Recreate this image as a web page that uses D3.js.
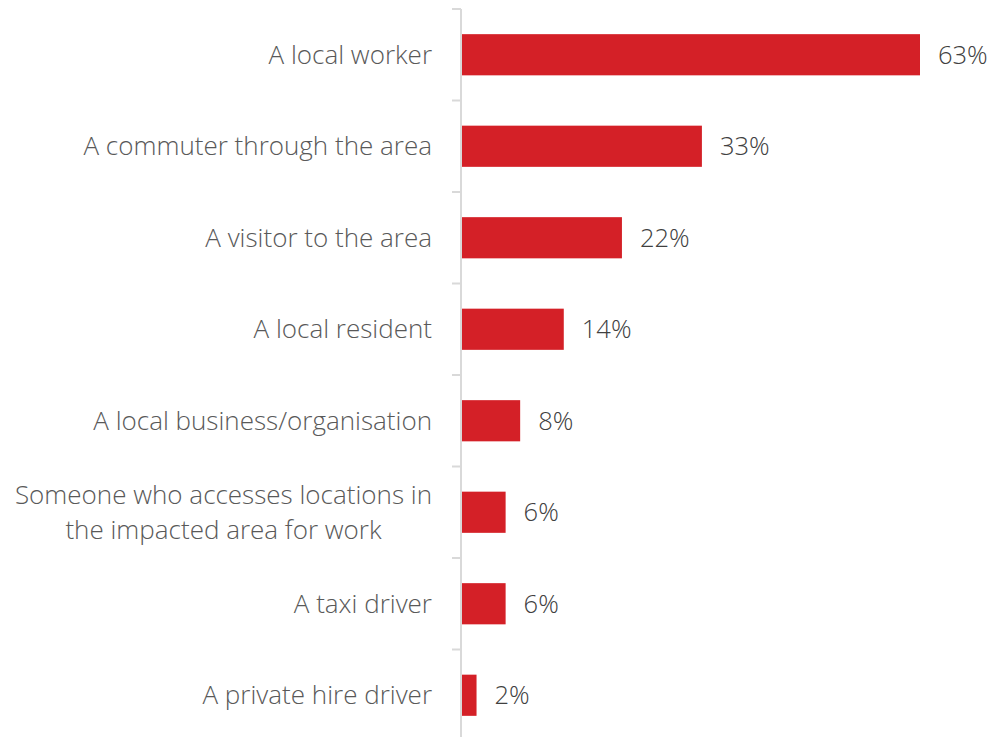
<!DOCTYPE html>
<html><head><meta charset="utf-8">
<script src="https://cdn.jsdelivr.net/npm/d3@7"></script>
<style>body{margin:0;background:#fff}svg{display:block}</style>
</head><body>
<svg id="c" width="993" height="737"></svg>
<script>
const categories = [
  ["A local worker"],
  ["A commuter through the area"],
  ["A visitor to the area"],
  ["A local resident"],
  ["A local business/organisation"],
  ["Someone who accesses locations in", "the impacted area for work"],
  ["A taxi driver"],
  ["A private hire driver"]
];
const values = [63, 33, 22, 14, 8, 6, 6, 2];
const valueLabels = ["63%", "33%", "22%", "14%", "8%", "6%", "6%", "2%"];

const svg = d3.select("#c");
const x0 = 461, y0 = 9, y1 = 741;
const ids = categories.map((d, i) => i);
const y = d3.scaleBand().domain(ids).range([y0, y1]).paddingInner(0.55).paddingOuter(0.275);
const x = d3.scaleLinear().domain([0, 63]).range([x0 + 1, 920]);
const font = "'Open Sans', sans-serif";

// axis
const yAxis = d3.axisLeft(y).tickSize(0).tickFormat("");
const ag = svg.append("g").attr("transform", `translate(${x0},0)`).call(yAxis);
ag.select(".domain").remove();
ag.append("line").attr("x1", 0).attr("x2", 0).attr("y1", y0).attr("y2", 737)
  .attr("stroke", "#d9d9d9").attr("stroke-width", 2);
const step = y.step();
d3.range(ids.length + 1).forEach(i => {
  const yy = y0 + i * step;
  ag.append("line").attr("x1", -9).attr("x2", 0).attr("y1", yy).attr("y2", yy)
    .attr("stroke", "#d9d9d9").attr("stroke-width", 2);
});

// bars
svg.append("g").selectAll("rect").data(values).join("rect")
  .attr("x", x(0)).attr("y", (d, i) => y(i))
  .attr("width", d => x(d) - x(0)).attr("height", y.bandwidth())
  .attr("fill", "#d42027");

// value labels
svg.append("g").selectAll("text").data(values).join("text")
  .attr("x", d => x(d) + 18).attr("y", (d, i) => y(i) + y.bandwidth() / 2)
  .attr("dy", "0.35em").attr("font-family", font).attr("font-weight", 300)
  .attr("font-size", 25.5).attr("fill", "#404040")
  .text((d, i) => valueLabels[i]);

// category labels
const labelRight = x0 - 29;
const cg = svg.append("g").selectAll("text").data(categories).join("text")
  .attr("text-anchor", "end").attr("font-family", font).attr("font-weight", 300)
  .attr("font-size", 26).attr("fill", "#595959")
  .attr("transform", (d, i) => `translate(${labelRight},${y(i) + y.bandwidth() / 2})`);
cg.selectAll("tspan").data(d => d.map((t, j) => ({t, j, n: d.length}))).join("tspan")
  .attr("x", 0)
  .attr("y", d => (d.j - (d.n - 1) / 2) * 35)
  .attr("dy", "0.35em")
  .text(d => d.t);
// multi-line labels are centred within their block
cg.each(function(d) {
  if (d.length < 2) return;
  const spans = d3.select(this).selectAll("tspan").nodes();
  const w = d3.max(spans, s => s.getComputedTextLength());
  d3.select(this).attr("text-anchor", "middle");
  d3.select(this).selectAll("tspan").attr("x", -w / 2);
});
</script>
</body></html>
